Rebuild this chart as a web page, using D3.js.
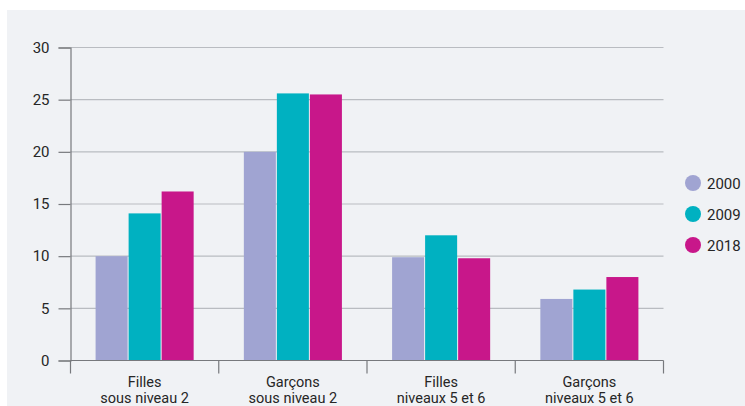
<!DOCTYPE html>
<html>
<head>
<meta charset="utf-8">
<script src="https://cdn.jsdelivr.net/npm/d3@7"></script>
<style>
  html, body { margin: 0; padding: 0; background: #ffffff; }
  svg { display: block; }
  text { font-family: Roboto, "Noto Sans", sans-serif; fill: #262626; }
</style>
</head>
<body>
<svg id="chart" width="745" height="406"></svg>
<script>
// Categories (two-line labels) and yearly series
const categories = [
  ["Filles", "sous niveau 2"],
  ["Garçons", "sous niveau 2"],
  ["Filles", "niveaux 5 et 6"],
  ["Garçons", "niveaux 5 et 6"]
];
const years = ["2000", "2009", "2018"];
const values2000 = [10.0, 20.0, 9.9, 5.9];
const values2009 = [14.1, 25.6, 12.0, 6.8];
const values2018 = [16.2, 25.5, 9.8, 8.0];
const yTicks = [0, 5, 10, 15, 20, 25, 30];
const colors = ["#a0a4d2", "#00b1c1", "#c8178a"];

const series = [values2000, values2009, values2018];
const rows = categories.map((c, i) => ({
  key: i,
  label: c,
  vals: years.map((yr, j) => ({ year: yr, v: series[j][i] }))
}));

const svg = d3.select("#chart");

// panel background
svg.append("rect")
  .attr("x", 7).attr("y", 10)
  .attr("width", 745 - 7).attr("height", 406 - 10)
  .attr("fill", "#f0f2f5");

const plotLeft = 70.5, plotRight = 663.5, plotTop = 47.5, plotBottom = 360.5;

const x = d3.scaleBand().domain(rows.map(r => r.key)).range([plotLeft, plotRight]).paddingInner(0).paddingOuter(0);
const xi = d3.scaleBand().domain(years).range([0, x.bandwidth()]).paddingInner(0.03).paddingOuter(0.76);
const y = d3.scaleLinear().domain([0, 30]).range([plotBottom, plotTop]);

// horizontal grid lines
svg.append("g").selectAll("line").data(yTicks.filter(t => t > 0)).join("line")
  .attr("x1", plotLeft).attr("x2", plotRight)
  .attr("y1", d => y(d)).attr("y2", d => y(d))
  .attr("stroke", "#b9bcc1").attr("stroke-width", 1.2);

// bars
const g = svg.append("g").selectAll("g").data(rows).join("g")
  .attr("transform", d => `translate(${x(d.key)},0)`);
g.selectAll("rect").data(d => d.vals).join("rect")
  .attr("x", d => xi(d.year))
  .attr("width", xi.bandwidth())
  .attr("y", d => y(d.v))
  .attr("height", d => y(0) - y(d.v))
  .attr("fill", (d, i) => colors[i]);

// y axis
const yAxis = svg.append("g")
  .attr("transform", `translate(${plotLeft},0)`)
  .call(d3.axisLeft(y).tickValues(yTicks).tickSize(12).tickPadding(9).tickFormat(d3.format("d")));
yAxis.select(".domain").attr("stroke", "#77797d").attr("stroke-width", 1.2);
yAxis.selectAll(".tick line").attr("stroke", "#77797d").attr("stroke-width", 1.2);
yAxis.selectAll(".tick text").attr("font-size", 15).attr("fill", "#262626")
  .style("font-family", "Roboto, sans-serif");

// x axis with boundary ticks between categories
svg.append("line")
  .attr("x1", plotLeft).attr("x2", plotRight).attr("y1", plotBottom).attr("y2", plotBottom)
  .attr("stroke", "#77797d").attr("stroke-width", 1.2);
const bounds = rows.map(r => x(r.key)).concat([plotRight]);
svg.append("g").selectAll("line").data(bounds).join("line")
  .attr("x1", d => d).attr("x2", d => d)
  .attr("y1", plotBottom).attr("y2", plotBottom + 13)
  .attr("stroke", "#77797d").attr("stroke-width", 1.2);

// category labels
const lab = svg.append("g").selectAll("text").data(rows).join("text")
  .attr("x", d => x(d.key) + x.bandwidth() / 2)
  .attr("y", 387)
  .attr("text-anchor", "middle")
  .attr("font-size", 14.5);
lab.append("tspan").attr("x", d => x(d.key) + x.bandwidth() / 2).text(d => d.label[0]);
lab.append("tspan").attr("x", d => x(d.key) + x.bandwidth() / 2).attr("dy", 15.5).text(d => d.label[1]);

// legend
const leg = svg.append("g").selectAll("g").data(years).join("g")
  .attr("transform", (d, i) => `translate(693,${183 + i * 31})`);
leg.append("circle").attr("r", 8).attr("fill", (d, i) => colors[i]);
leg.append("text").attr("x", 14).attr("y", 5.5).attr("font-size", 15).text(d => d);
</script>
</body>
</html>
